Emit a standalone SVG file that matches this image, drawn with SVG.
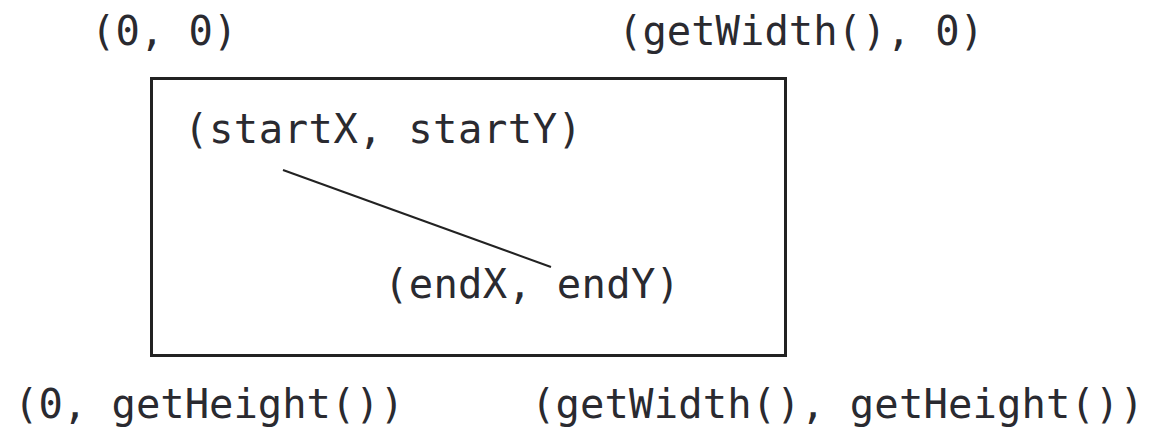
<svg xmlns="http://www.w3.org/2000/svg" width="1149" height="430" viewBox="0 0 1149 430">
  <style>
    .lbl { font-family: "DejaVu Sans Mono", "Liberation Mono", monospace; font-size: 40.5px; fill: #2a2a30; }
    .frame { fill: none; stroke: #222; stroke-width: 3; }
    .seg { stroke: #222; stroke-width: 2; }
  </style>
  <rect width="1149" height="430" fill="#fff"/>
  <!-- drawing surface -->
  <g id="surface">
    <rect class="frame" x="151.5" y="78.5" width="634" height="277"/>
  </g>
  <!-- corner coordinates -->
  <g id="corner-top-left"><text class="lbl" x="91" y="45">(0, 0)</text></g>
  <g id="corner-top-right"><text class="lbl" x="618" y="45" textLength="366">(getWidth(), 0)</text></g>
  <g id="corner-bottom-left"><text class="lbl" x="14" y="418">(0, getHeight())</text></g>
  <g id="corner-bottom-right"><text class="lbl" x="531" y="418" textLength="613">(getWidth(), getHeight())</text></g>
  <!-- line endpoints -->
  <g id="start-point"><text class="lbl" x="184" y="143" textLength="398">(startX, startY)</text></g>
  <g id="end-point"><text class="lbl" x="384" y="298" textLength="296">(endX, endY)</text></g>
  <g id="connectors">
    <line class="seg" x1="283" y1="170" x2="551" y2="267"/>
  </g>
</svg>
